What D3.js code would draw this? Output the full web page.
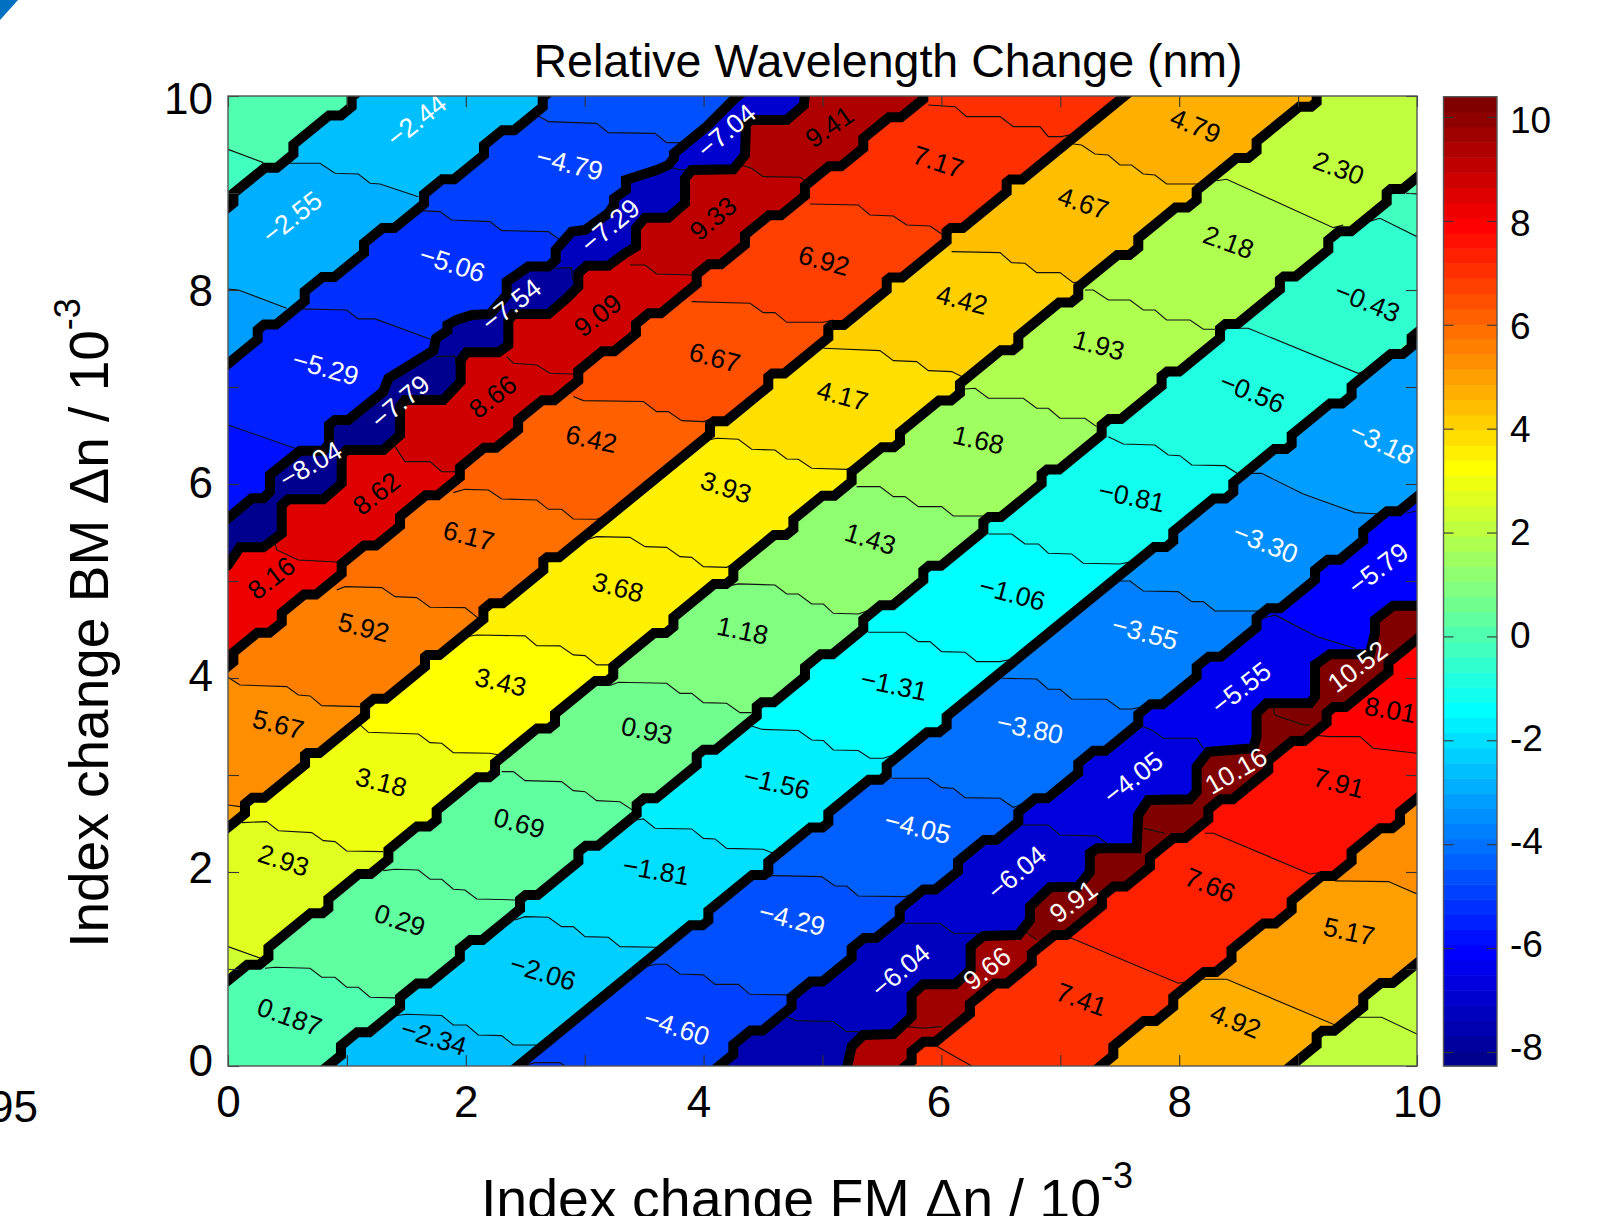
<!DOCTYPE html>
<html><head><meta charset="utf-8">
<script src="https://cdn.jsdelivr.net/npm/d3@7"></script>
<style>html,body{margin:0;padding:0;background:#fff;overflow:hidden}svg{display:block;font-family:"Liberation Sans",Arial,sans-serif}</style>
</head><body><svg id="c" width="1615" height="1216"></svg>
<script>
// ---------- thick (densely stacked) contour boundaries, data units ----------
// stepped lines: y = x + c, with a 0.1 rise at each "rises" x, and a 0.1 flat at each "flats" x
const L1 = {c:8.85, rises:[.045,.55,1.04], flats:[.36,.90]};
const L2 = {c:7.24, rises:[.25,.645,1.144,1.649,2.153,2.647], flats:[.354,.844,1.349,1.853,2.358]};
const L3 = {pts:[[-.6,5.05],[0,5.646],[.2,5.853],[.297,5.853],[.353,5.921],[.353,6.093],[.606,6.344],[.802,6.344],[.85,6.413],[.85,6.609],[.90,6.66],[1.012,6.66],[1.306,6.952],[1.349,7.09],[1.727,7.375],[1.75,7.502],[1.845,7.581],[1.845,7.64],[1.923,7.691],[2.05,7.743],[2.204,7.753],[2.344,7.949],[2.344,8.086],[2.526,8.241],[2.694,8.241],[2.756,8.31],[2.756,8.413],[2.891,8.602],[3.003,8.619],[3.199,8.791],[3.247,8.877],[3.247,8.945],[3.347,9.031],[3.347,9.134],[3.437,9.169],[3.605,9.237],[3.703,9.289],[3.751,9.358],[3.751,9.409],[4.026,9.684],[4.222,9.925],[4.278,9.993],[4.35,10.06],[10.6,16.3]]};
const L4 = {pts:[[-.6,4.56],[0,5.165],[.10,5.347],[.297,5.347],[.452,5.49],[.452,5.784],[.508,5.842],[.802,5.842],[.956,6.007],[.956,6.299],[.998,6.351],[1.307,6.351],[1.447,6.505],[1.447,6.80],[1.489,6.867],[1.811,6.867],[1.957,7.056],[1.957,7.279],[2.007,7.358],[2.274,7.358],[2.358,7.433],[2.358,7.684],[2.40,7.753],[2.694,7.753],[2.849,7.914],[2.946,8.035],[2.946,8.172],[3.017,8.251],[3.199,8.251],[3.339,8.378],[3.431,8.447],[3.431,8.636],[3.507,8.746],[3.703,8.746],[3.844,8.894],[3.844,9.151],[3.90,9.237],[4.25,9.244],[4.348,9.392],[4.357,9.718],[4.404,9.753],[4.698,9.753],[4.844,9.907],[4.853,10.03],[10.6,15.75]]};
const L5 = {c:4.12, rises:[.045,.452,.956,1.447,1.95,2.44,2.946,3.431,3.942,4.348,4.853,5.343,5.848], flats:[.297,.69,1.195,1.713,2.204,2.694,3.199,3.59,4.096,4.60,5.105,5.61]};
const L6 = {c:2.46, rises:[.143,.648,1.153,1.657,2.148,2.652,4.054,4.544,5.049,5.54,6.044,6.549], flats:[.255,.718,1.277,1.727,2.26,2.735,4.138,4.63,5.13,5.62,6.13,6.63]};
const L7 = {c:.88, rises:[.34,.844,1.349,1.755,2.246,2.75,3.24,3.746,4.25,4.755,5.245,5.652,6.156,6.647,7.151,7.656,8.147,8.651,9.156], flats:[.213,.745,1.15,1.64,2.146,2.65,3.14,3.633,4.138,4.643,5.05,5.55,6.03,6.55,7.04,7.53,8.02,8.53,9.06]};
const L8 = {c:-.84, rises:[.95,1.447,1.95,2.456,2.947,3.437,3.942,4.447,4.853,5.343,5.848,6.353,6.843,7.348,7.852,8.343,8.847,9.254,9.745], flats:[1.138,1.64,2.09,2.554,3.06,3.55,4.05,4.54,5.035,5.54,5.946,6.45,6.94,7.46,7.95,8.44,8.93,9.395,9.83]};
const L9 = {c:-2.44, rises:[4.04,4.544,5.049,5.54,6.044,7.95,8.455,8.946,9.45,9.955], flats:[3.94,4.46,4.95,5.44,5.93,7.84,8.34,8.85,9.32,9.83]};
const L10 = {c:-4.13, rises:[4.25,4.74,5.245,5.65,6.14,6.647,7.151,7.656,8.147,8.651,9.142,9.548], flats:[4.446,4.95,5.40,5.90,6.41,6.84,7.33,7.81,8.30,8.80,9.30,9.80]};
const L11 = {pts:[[-.6,-5.65],[5.2,-.05],[5.245,.2],[5.343,.32],[5.595,.33],[5.75,.51],[5.75,.733],[5.848,.842],[6.114,.842],[6.246,.99],[6.246,1.231],[6.353,1.341],[6.647,1.351],[6.745,1.505],[6.745,1.643],[6.913,1.842],[7.151,1.849],[7.249,2.0],[7.249,2.193],[7.311,2.244],[7.642,2.244],[7.656,2.588],[7.74,2.743],[8.09,2.75],[8.147,2.829],[8.147,3.086],[8.245,3.24],[8.623,3.276],[8.651,3.40],[8.651,3.636],[8.735,3.739],[9.10,3.739],[9.142,3.808],[9.142,4.135],[9.268,4.245],[9.604,4.245],[9.646,4.461],[9.646,4.598],[9.80,4.746],[10,4.746],[10.6,5.3]]};
const L12 = {c:-5.7, rises:[5.75,6.24,6.76,7.35,7.754,8.245,8.749,9.24,9.76], flats:[5.9,6.5,7.0,7.5,8.0,8.4,9.0,9.35]};
const L13 = {c:-7.34, rises:[7.446,7.95,8.44,8.946,9.45,9.857], flats:[7.754,8.26,8.76,9.25,9.74]};
const L14 = {c:-8.94, rises:[9.156,9.548], flats:[9.254,9.745]};
const thickLines = [L1,L2,L3,L4,L5,L6,L7,L8,L9,L10,L11,L12,L13,L14];

// ---------- thin contour lines per diagonal band, upper right to lower left ----------
const band0Lines = [[[0,9.45],[.297,9.313]]];
const band1Lines = [
 [[.507,9.306],[.774,9.306],[.90,9.203],[1.096,9.196],[1.195,9.10],[1.279,9.093],[1.601,8.962]],
 [[0,8.011],[.087,8.0],[.494,7.811]]];
const band2Lines = [
 [[2.596,9.804],[2.695,9.736],[3.10,9.718],[3.199,9.622],[3.591,9.615],[3.689,9.519],[3.80,9.519],[3.90,9.58]],
 [[1.615,8.818],[1.783,8.808],[1.881,8.722],[2.204,8.705],[2.302,8.612],[2.695,8.602],[2.793,8.516]],
 [[.62,7.805],[.998,7.794],[1.096,7.702],[1.237,7.702],[1.699,7.495],[1.783,7.495]],
 [[0,6.608],[.606,6.351],[.704,6.385]]];
const band3Lines = [
 [[3.70,9.27],[3.80,9.24],[3.90,9.244],[3.95,9.05]],
 [[2.723,8.224],[2.891,8.231],[2.896,8.104]],
 [[1.755,7.313],[1.909,7.32],[1.918,7.227]]];
const band4Lines = [
 [[4.306,9.289],[4.404,9.255],[4.502,9.169],[4.811,9.162],[4.895,9.093]],
 [[3.381,8.258],[3.507,8.258],[3.605,8.165],[3.90,8.155],[3.998,8.207]],
 [[2.344,7.313],[2.40,7.245],[2.596,7.227],[2.708,7.141],[2.904,7.134],[2.975,7.183]],
 [[1.405,6.385],[1.489,6.231],[1.699,6.231],[1.797,6.127],[1.909,6.127],[1.979,6.179]],
 [[.396,5.389],[.41,5.32],[.592,5.217],[.985,5.19]]];
const band5Lines = [
 [[5.89,9.907],[6.114,9.89],[6.212,9.787],[6.493,9.787],[6.605,9.684],[6.829,9.684],[6.899,9.581],[7.011,9.581],[7.109,9.605]],
 [[4.895,8.887],[5.30,8.877],[5.399,8.773],[5.596,8.763],[5.708,8.67],[5.904,8.66],[6.002,8.578]],
 [[3.90,7.88],[4.39,7.863],[4.502,7.767],[4.60,7.767],[4.699,7.667],[5.007,7.667],[5.091,7.691]],
 [[2.904,6.901],[2.989,6.86],[3.493,6.85],[3.605,6.746],[3.703,6.746],[3.816,6.653],[3.998,6.643],[4.082,6.677]],
 [[1.895,5.911],[1.993,5.945],[2.19,5.938],[2.302,5.846],[2.596,5.835],[2.694,5.739],[2.806,5.739],[2.904,5.639],[3.10,5.636],[3.199,5.681]],
 [[.914,4.908],[.984,4.942],[1.293,4.932],[1.405,4.839],[1.587,4.829],[1.699,4.729],[1.993,4.726],[2.105,4.616]],
 [[0,4.007],[.101,3.928],[.494,3.911],[.592,3.825],[.69,3.815],[.788,3.715],[1.11,3.705]],
 [[0,2.691],[.101,2.674]]];
const band6Lines = [
 [[7.109,9.505],[7.179,9.495],[7.291,9.402],[7.403,9.392],[7.501,9.289],[7.599,9.289],[7.698,9.196],[7.796,9.186],[7.894,9.093],[8.203,9.093]],
 [[6.086,8.396],[6.493,8.385],[6.591,8.282],[6.703,8.275],[6.801,8.179],[6.997,8.179],[7.109,8.076],[7.193,8.086]],
 [[5.007,7.399],[5.483,7.375],[5.596,7.272],[5.792,7.262],[5.89,7.169],[6.086,7.159],[6.184,7.10]],
 [[4.04,6.454],[4.11,6.471],[4.292,6.461],[4.404,6.358],[4.60,6.351],[4.699,6.258],[4.797,6.255],[4.909,6.162],[5.203,6.151],[5.287,6.196]],
 [[3.031,5.43],[3.10,5.457],[3.381,5.45],[3.507,5.354],[3.689,5.347],[3.801,5.251],[3.90,5.244],[3.998,5.148],[4.194,5.141],[4.292,5.20]],
 [[2.02,4.427],[2.09,4.444],[2.498,4.434],[2.596,4.334],[2.792,4.331],[2.904,4.238],[3.003,4.231],[3.10,4.135],[3.212,4.135],[3.283,4.186]],
 [[1.11,3.516],[1.181,3.44],[1.601,3.423],[1.699,3.334],[1.798,3.327],[1.895,3.231],[2.204,3.224],[2.288,3.204]],
 [[.115,2.509],[.325,2.519],[.423,2.426],[.704,2.406],[.802,2.323],[.90,2.313],[.998,2.217],[1.306,2.21]],
 [[0,1.231],[.297,1.10]]];
const band7Lines = [
 [[8.315,9.127],[8.399,9.141],[9.296,8.643],[9.38,8.67]],
 [[7.207,8.0],[7.277,8.0],[7.404,7.897],[7.586,7.897],[7.698,7.794],[7.796,7.794],[7.894,7.691],[8.091,7.691],[8.203,7.595],[8.301,7.595]],
 [[6.199,6.98],[6.283,6.987],[6.395,6.884],[6.689,6.884],[6.801,6.781],[6.899,6.781],[6.997,6.678],[7.207,6.678],[7.305,6.592]],
 [[5.287,5.973],[5.483,5.973],[5.596,5.87],[5.694,5.87],[5.806,5.767],[6.002,5.767],[6.10,5.67],[6.353,5.67],[6.395,5.698]],
 [[4.222,4.952],[4.292,4.97],[4.60,4.959],[4.699,4.866],[4.797,4.866],[4.909,4.763],[5.007,4.763],[5.091,4.667],[5.301,4.66],[5.385,4.695]],
 [[3.212,3.922],[3.283,3.956],[3.689,3.946],[3.801,3.842],[3.90,3.842],[3.998,3.746],[4.194,3.739],[4.306,3.643],[4.404,3.643]],
 [[2.302,3.035],[2.40,3.035],[2.498,2.942],[2.806,2.932],[2.904,2.839],[3.003,2.828],[3.10,2.736],[3.297,2.725],[3.409,2.633]],
 [[1.306,2.014],[1.405,2.028],[1.601,2.021],[1.699,1.925],[1.798,1.925],[1.895,1.822],[1.993,1.815],[2.092,1.722],[2.414,1.712]],
 [[.311,1.007],[.395,1.018],[.69,1.007],[.788,.915],[.90,.915],[.998,.812],[1.096,.812],[1.195,.709],[1.405,.702]]];
const band8Lines = [
 [[9.913,8.997],[10,8.99]],
 [[9.59,8.705],[9.689,8.739],[10,8.55]],
 [[8.511,7.605],[8.581,7.605],[9.506,7.141],[9.59,7.176]],
 [[7.404,6.488],[7.53,6.413],[7.796,6.402],[7.908,6.299],[8.006,6.292],[8.105,6.196],[8.385,6.189],[8.497,6.103]],
 [[6.395,5.485],[6.591,5.485],[6.703,5.382],[6.815,5.382],[6.899,5.286],[7.095,5.279],[7.193,5.183],[7.502,5.176],[7.60,5.20]],
 [[5.385,4.471],[5.694,4.471],[5.806,4.375],[5.904,4.375],[6.002,4.272],[6.199,4.265],[6.297,4.169],[6.493,4.169],[6.591,4.193]],
 [[4.404,3.506],[4.488,3.471],[4.797,3.458],[4.909,3.361],[5.007,3.355],[5.091,3.258],[5.301,3.252],[5.399,3.172],[5.511,3.172],[5.595,3.207]],
 [[3.437,2.536],[3.493,2.547],[3.591,2.451],[3.90,2.444],[3.998,2.347],[4.096,2.341],[4.194,2.244],[4.502,2.234],[4.586,2.193]],
 [[2.414,1.506],[2.498,1.54],[2.694,1.533],[2.806,1.437],[2.904,1.437],[3.003,1.334],[3.199,1.327],[3.297,1.231],[3.605,1.224],[3.661,1.248]],
 [[1.419,.52],[1.503,.533],[1.797,.52],[1.895,.423],[2.007,.423],[2.105,.32],[2.302,.313],[2.40,.217],[2.596,.217]]];
const band9Lines = [
 [[8.609,6.11],[8.693,6.11],[9.044,5.897],[9.478,5.705],[9.689,5.691]],
 [[7.502,5.0],[7.586,5.0],[7.698,4.897],[7.992,4.89],[8.105,4.787],[8.203,4.787],[8.301,4.691],[8.693,4.691]],
 [[6.507,3.997],[6.801,3.99],[6.899,3.884],[6.997,3.884],[7.095,3.784],[7.39,3.781],[7.502,3.681],[7.60,3.681],[7.698,3.705]],
 [[5.582,2.966],[5.89,2.966],[6.002,2.87],[6.10,2.863],[6.199,2.767],[6.493,2.76],[6.605,2.667],[6.703,2.708]],
 [[4.502,1.935],[4.586,1.963],[4.993,1.952],[5.105,1.856],[5.203,1.856],[5.301,1.753],[5.694,1.746],[5.778,1.78]],
 [[3.521,1.025],[3.591,1.049],[3.689,1.049],[3.80,.949],[3.998,.939],[4.096,.842],[4.292,.842],[4.39,.739],[4.699,.733],[4.783,.784]],
 [[2.512,.011],[2.582,.035],[2.792,.035],[2.834,0]]];
const band10Lines = [
 [[9.913,5.698],[10,5.725]],
 [[8.707,4.616],[8.805,4.65],[9.156,4.427],[9.478,4.306]],
 [[7.698,3.5],[7.768,3.465],[7.866,3.379],[8.147,3.379],[8.203,3.276]],
 [[6.689,2.485],[6.899,2.485],[6.997,2.382],[7.305,2.372],[7.39,2.296]],
 [[5.68,1.471],[5.988,1.471],[6.10,1.368],[6.297,1.368],[6.297,1.30]],
 [[4.699,.509],[4.783,.468],[5.091,.458],[5.203,.355],[5.301,.355],[5.301,.32]]];
const band11Lines = [
 [[8.791,3.688],[8.805,3.619],[9.044,3.516],[9.10,3.516]],
 [[7.704,2.45],[7.88,2.399]],
 [[6.703,1.385],[6.801,1.30]],
 [[5.708,.406],[5.848,.389],[6.002,.406]]];
const band12Lines = [
 [[9.114,3.413],[9.268,3.396],[9.52,3.396],[9.632,3.276],[10,3.224]],
 [[8.217,2.399],[8.287,2.399],[9.10,1.98],[9.184,1.994]],
 [[6.997,1.306],[7.095,1.317],[7.992,.853],[8.076,.87]],
 [[5.89,.252],[6.255,0]]];
const band13Lines = [
 [[9.31,1.908],[9.759,1.901],[10,1.774]],
 [[8.203,.894],[8.399,.894],[9.31,.423],[9.394,.468]]];
const band14Lines = [[[9.506,.502],[9.703,.502],[10,.33]]];
const bandLines = [band0Lines,band1Lines,band2Lines,band3Lines,band4Lines,band5Lines,band6Lines,band7Lines,band8Lines,band9Lines,band10Lines,band11Lines,band12Lines,band13Lines,band14Lines];

// colour level (row of the 64-step colour bar) of each region in each band
const bandLevels = [
 [29,28],[20,19,18],[13,12,11,10,9],[5,4,2,1],[61,60,59,59,58,57],
 [53,53,52,51,50,49,48,47,46],[45,44,43,42,41,41,40,39,38,37],
 [36,35,35,34,33,32,31,30,30,29],[29,28,27,26,25,24,24,23,22,21,20],
 [18,17,16,15,14,13,12,11],[9,8,7,6,5,4,3],[64,64,64,62,61],
 [56,55,54,53,53],[47,46,45],[36,36]];

// ---------- contour labels: text, x, y, angle ----------
const contourLabels = [
["−2.44",1.584,9.75,-38],["−2.55",.537,8.752,-38],["−4.79",2.874,9.304,14],["−5.06",1.887,8.274,18],["−5.29",.822,7.201,16],
["−7.04",4.19,9.644,-40],["−7.29",3.212,8.667,-40],["−7.54",2.381,7.849,-38],["−7.79",1.446,6.851,-40],["−8.04",.693,6.203,-30],
["9.41",5.056,9.686,-35],["9.33",4.078,8.741,-40],["9.09",3.108,7.743,-38],["8.66",2.225,6.904,-38],["8.62",1.247,5.905,-38],["8.16",.364,5.034,-38],
["7.17",5.974,9.325,18],["6.92",5.013,8.306,15],["6.67",4.095,7.307,15],["6.42",3.056,6.468,12],["6.17",2.026,5.47,15],["5.92",1.143,4.525,14],["5.67",.424,3.526,14],
["4.79",8.138,9.697,22],["4.67",7.195,8.9,18],["4.42",6.173,7.902,14],["4.17",5.169,6.914,15],["3.93",4.19,5.969,18],["3.68",3.281,4.939,15],["3.43",2.294,3.962,13],["3.18",1.29,2.931,14],["2.93",.468,2.124,18],
["2.30",9.342,9.261,20],["2.18",8.416,8.497,20],["1.93",7.325,7.435,15],["1.68",6.312,6.458,13],["1.43",5.403,5.438,17],["1.18",4.329,4.493,12],["0.93",3.524,3.462,12],["0.69",2.45,2.507,15],["0.29",1.446,1.508,18],["0.187",.519,.51,20],
["−0.43",9.584,7.881,22],["−0.56",8.615,6.946,22],["−0.81",7.602,5.873,12],["−1.06",6.597,4.875,15],["−1.31",5.602,3.93,12],["−1.56",4.615,2.921,13],["−1.81",3.602,2.018,10],["−2.06",2.649,.967,17],["−2.34",1.732,.297,17],
["−3.18",9.706,6.426,25],["−3.30",8.727,5.395,22],["−3.55",7.714,4.471,15],["−3.80",6.745,3.484,12],["−4.05",5.801,2.464,14],["−4.29",4.745,1.519,14],["−4.60",3.775,.404,18],
["−5.79",9.671,5.13,-37],["−5.55",8.519,3.898,-38],["−4.05",7.61,2.974,-38],["−6.04",6.632,1.997,-40],["−6.04",5.654,.988,-40],
["10.52",9.498,4.121,-37],["10.16",8.476,3.048,-30],["9.91",7.108,1.699,-37],["9.66",6.381,1.009,-38],
["8.01",9.775,3.675,10],["7.91",9.342,2.921,15],["7.66",8.26,1.869,22],["7.41",7.178,.69,20],["5.17",9.429,1.391,12],["4.92",8.476,.467,22]];

const axisTicks = d3.range(0,11);
const axisLabelled = [0,2,4,6,8,10];
const colorTicks = [-8,-6,-4,-2,0,2,4,6,8,10];
const colorDomain = [-8.27,10.39];
const titleText = "Relative Wavelength Change (nm)";
const xTitle = "Index change FM Δn / 10";
const yTitle = "Index change BM Δn / 10";
const exponent = "-3";
const strayText = "95";

// ---------- scales ----------
const x = d3.scaleLinear().domain([0,10]).range([228,1417]);
const y = d3.scaleLinear().domain([0,10]).range([1066,96]);
const cb = d3.scaleLinear().domain(colorDomain).range([1066,96.7]);
const svg = d3.select("#c");
const line = d3.line().x(d=>x(d[0])).y(d=>y(d[1]));

// MATLAB jet(64)
function jet(i){
  const b = i<=8 ? .5+i/16 : i<=24 ? 1 : Math.max(0,(40-i)/16);
  const g = i<=8 ? 0 : i<=24 ? (i-8)/16 : i<=40 ? 1 : Math.max(0,(56-i)/16);
  const r = i<=24 ? 0 : i<=40 ? (i-24)/16 : i<=56 ? 1 : (72-i)/16;
  return d3.rgb(Math.round(r*255),Math.round(g*255),Math.round(b*255)).formatHex();
}
function linePoints(L){
  if(L.pts) return L.pts;
  const ev = L.rises.map(v=>[v,"r"]).concat(L.flats.map(v=>[v,"f"])).sort((a,b)=>a[0]-b[0]);
  let c = L.c; const out = [[-.6,-.6+c]];
  ev.forEach(([e,k])=>{
    if(k==="r"){ out.push([e,e+c]); c+=.1; out.push([e,e+c]); }
    else { out.push([e-.05,e-.05+c]); out.push([e+.05,e-.05+c]); c-=.1; }
  });
  out.push([10.6,10.6+c]);
  return out;
}
const thickPts = thickLines.map(linePoints);

const defs = svg.append("defs");
defs.append("clipPath").attr("id","frame").append("rect").attr("x",x(0)).attr("y",y(10)).attr("width",x(10)-x(0)).attr("height",y(0)-y(10));
const plot = svg.append("g").attr("clip-path","url(#frame)");

bandLevels.forEach((levels,k)=>{
  const upper = k===0 ? [[-.6,30],[10.6,30]] : thickPts[k-1];
  const lower = k===thickPts.length ? [[-.6,-30],[10.6,-30]] : thickPts[k];
  const poly = upper.concat(lower.slice().reverse());
  defs.append("clipPath").attr("id","band"+k).append("path").attr("d",line(poly)+"Z");
  const g = plot.append("g").attr("clip-path",`url(#band${k})`);
  g.append("path").attr("d",line(poly)+"Z").attr("fill",jet(levels[0]));
  bandLines[k].forEach((cv,j)=>{
    const s = cv[0], e = cv[cv.length-1];
    const region = [[s[0]-.5,s[1]+.5],...cv,[e[0]+.5,e[1]-.5],[e[0]+.5-25,e[1]-.5-25],[s[0]-.5-25,s[1]+.5-25]];
    g.append("path").attr("d",line(region)+"Z").attr("fill",jet(levels[j+1]));
  });
  bandLines[k].forEach(cv=>{
    g.append("path").attr("d",line(cv)).attr("fill","none").attr("stroke","#111").attr("stroke-width",1.1);
  });
});
thickPts.forEach(p=>{
  plot.append("path").attr("d",line(p)).attr("fill","none").attr("stroke","#000").attr("stroke-width",10).attr("stroke-linejoin","miter");
});

// contour labels
svg.append("g").selectAll("text").data(contourLabels).join("text")
  .attr("transform",d=>`translate(${x(d[1])},${y(d[2])}) rotate(${d[3]})`)
  .attr("text-anchor","middle").attr("dy","0.36em").attr("font-size",26.5)
  .attr("fill",d=>{const v=+d[0].replace("−","-");return (v<=-2.4||v>=9.6)?"#fff":"#000";})
  .text(d=>d[0]);

// axes
const TICK = "#333", FRAME = "#555";
function styleAxis(g,fs){
  g.select(".domain").attr("stroke","none");
  g.selectAll(".tick line").attr("stroke",TICK).attr("stroke-width",1.1);
  g.selectAll("text").attr("font-family","Liberation Sans, Arial, sans-serif").attr("font-size",fs).attr("fill","#000");
}
const lab = d=>axisLabelled.includes(d)?String(d):"";
const gb = svg.append("g").attr("transform",`translate(0,${y(0)})`).call(d3.axisBottom(x).tickValues(axisTicks).tickFormat(lab).tickSize(-11).tickPadding(20));
styleAxis(gb,44); gb.selectAll("text").attr("x",d=>d===4?-5:d===6?-3:0);
const gl = svg.append("g").attr("transform",`translate(${x(0)},0)`).call(d3.axisLeft(y).tickValues(axisTicks).tickFormat(lab).tickSize(-11).tickPadding(15));
styleAxis(gl,44); gl.selectAll("text").attr("y",d=>-5+.8*d);
const gt = svg.append("g").attr("transform",`translate(0,${y(10)})`).call(d3.axisTop(x).tickValues(axisTicks).tickFormat("").tickSize(-11));
styleAxis(gt,44);
const gr = svg.append("g").attr("transform",`translate(${x(10)},0)`).call(d3.axisRight(y).tickValues(axisTicks).tickFormat("").tickSize(-11));
styleAxis(gr,44);
svg.append("rect").attr("x",x(0)).attr("y",y(10)).attr("width",x(10)-x(0)).attr("height",y(0)-y(10)).attr("fill","none").attr("stroke",FRAME).attr("stroke-width",1.4);

// colour bar
const cbX0 = 1443.5, cbX1 = 1497;
const step = (colorDomain[1]-colorDomain[0])/64;
svg.append("g").selectAll("rect").data(d3.range(1,65)).join("rect")
  .attr("x",cbX0).attr("width",cbX1-cbX0)
  .attr("y",i=>cb(colorDomain[0]+i*step)).attr("height",i=>cb(colorDomain[0]+(i-1)*step)-cb(colorDomain[0]+i*step)+.5)
  .attr("fill",i=>jet(i));
const gc = svg.append("g").attr("transform",`translate(${cbX1},0)`).call(d3.axisRight(cb).tickValues(colorTicks).tickFormat(d=>String(d)).tickSize(-10).tickPadding(13));
styleAxis(gc,37); gc.selectAll("text").attr("y",d=>.42*(d-2));
const gc2 = svg.append("g").attr("transform",`translate(${cbX0},0)`).call(d3.axisLeft(cb).tickValues(colorTicks).tickFormat("").tickSize(-10));
styleAxis(gc2,37);
svg.append("rect").attr("x",cbX0).attr("y",96.7).attr("width",cbX1-cbX0).attr("height",1066-96.7).attr("fill","none").attr("stroke",FRAME).attr("stroke-width",1.4);

// titles
svg.append("text").attr("x",888).attr("y",77).attr("text-anchor","middle").attr("font-size",46.5).text(titleText);
const xt = svg.append("text").attr("x",807).attr("y",1218).attr("text-anchor","middle").attr("font-size",55.5).text(xTitle);
xt.append("tspan").attr("dy",-30).attr("font-size",36).text(exponent);
const yt = svg.append("text").attr("transform","translate(108,623) rotate(-90)").attr("text-anchor","middle").attr("font-size",55).text(yTitle);
yt.append("tspan").attr("dy",-28).attr("font-size",36).text(exponent);

// stray slide remnants at the page edge
svg.append("path").attr("d",d3.line()([[0,0],[18,0],[0,20]])+"Z").attr("fill","#0070C0");
svg.append("text").attr("x",38).attr("y",1122).attr("text-anchor","end").attr("font-size",44).text(strayText);
</script></body></html>
